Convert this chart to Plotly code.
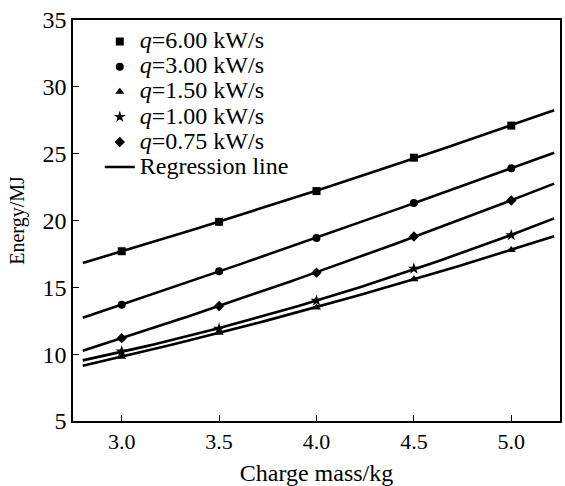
import numpy as np
import plotly.graph_objects as go

mass = [3.0, 3.5, 4.0, 4.5, 5.0]
labels = ["6.00", "3.00", "1.50", "1.00", "0.75"]
e_600 = [17.7, 19.9, 22.2, 24.7, 27.1]
e_300 = [13.7, 16.2, 18.7, 21.3, 23.9]
e_150 = [9.8, 11.6, 13.5, 15.6, 17.8]
e_100 = [10.2, 11.9, 14.0, 16.4, 18.9]
e_075 = [11.2, 13.6, 16.1, 18.8, 21.5]
series = [e_600, e_300, e_150, e_100, e_075]
symbols = ["square", "circle", "triangle-up", "star", "diamond"]
fit_range = [2.8, 5.22]

SERIF = "Liberation Serif"

fig = go.Figure()
for lab, ys, sym in zip(labels, series, symbols):
    fig.add_trace(go.Scatter(
        x=mass, y=ys, mode="markers",
        marker=dict(symbol=sym, size=8 if sym != "star" else 9, color="black"),
        name='<span style="font-size:24px"><i>q</i>=%s kW/s</span>' % lab,
    ))

xs = np.linspace(fit_range[0], fit_range[1], 60)
for i, ys in enumerate(series):
    c = np.polyfit(mass, ys, 2)
    fig.add_trace(go.Scatter(
        x=xs, y=np.polyval(c, xs), mode="lines",
        line=dict(color="black", width=2.6),
        name='<span style="font-size:24px">Regression line</span>',
        showlegend=(i == 0),
    ))

fig.update_layout(
    width=565, height=486,
    margin=dict(l=73, r=3, t=20, b=63),
    paper_bgcolor="white", plot_bgcolor="white",
    font=dict(family=SERIF, color="black"),
    showlegend=True,
    legend=dict(
        x=0.055, y=0.99, xanchor="left", yanchor="top",
        font=dict(size=17, family=SERIF, color="black"),
        bgcolor="rgba(0,0,0,0)", borderwidth=0,
        tracegroupgap=0, itemwidth=30,
    ),
    xaxis=dict(
        range=[2.75, 5.25], tickvals=mass, ticktext=["3.0", "3.5", "4.0", "4.5", "5.0"],
        showgrid=False, zeroline=False,
        showline=True, linecolor="black", linewidth=1.5, mirror=True,
        ticks="inside", ticklen=6, tickcolor="black", tickwidth=1.2,
        tickfont=dict(size=22, family=SERIF, color="black"),
        title=dict(text="Charge mass/kg", font=dict(size=24, family=SERIF, color="black"), standoff=12),
    ),
    yaxis=dict(
        range=[5, 35], tickvals=[5, 10, 15, 20, 25, 30, 35],
        showgrid=False, zeroline=False,
        showline=True, linecolor="black", linewidth=1.5, mirror=True,
        ticks="inside", ticklen=6, tickcolor="black", tickwidth=1.2,
        tickfont=dict(size=24, family=SERIF, color="black"),
        title=dict(text="Energy/MJ", font=dict(size=20, family=SERIF, color="black"), standoff=12),
    ),
)

fig.write_html("out.html")
